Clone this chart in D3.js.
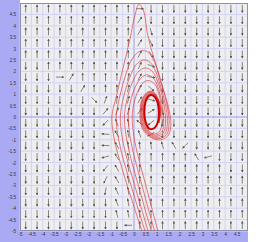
<!DOCTYPE html>
<html>
<head>
<meta charset="utf-8">
<script src="https://cdn.jsdelivr.net/npm/d3@7"></script>
<style>
body{margin:0;background:#fff}
svg{display:block}
</style>
</head>
<body>
<div class="chart"></div>
<script>
// tick labels on both axes
var tickVals = [-5,-4.5,-4,-3.5,-3,-2.5,-2,-1.5,-1,-0.5,0,0.5,1,1.5,2,2.5,3,3.5,4,4.5];

// arrow grid: cell centres
var colX = [-4.75,-4.25,-3.75,-3.25,-2.75,-2.25,-1.75,-1.25,-0.75,-0.25,0.25,0.75,1.25,1.75,2.25,2.75,3.25,3.75,4.25,4.75];
var rowY = [4.75,4.25,3.75,3.25,2.75,2.25,1.75,1.25,0.75,0.25,-0.25,-0.75,-1.25,-1.75,-2.25,-2.75,-3.25,-3.75,-4.25,-4.75];

// arrow direction in degrees (0 = right, 90 = up), one row per rowY
var U = 90, D = -90;
var dirs = [
  [U,U,U,U,U,U,U,U,U,U, 0,D,D,D,D,D,D,D,D,D],
  [U,U,U,U,U,U,U,U,U,U, 55,D,D,D,D,D,D,D,D,D],
  [U,U,U,U,U,U,U,U,U,U, 60,-75,D,D,D,D,D,D,D,D],
  [U,U,U,U,U,U,U,U,U,U, 60,-65,D,D,D,D,D,D,D,D],
  [U,U,U,U,U,U,U,U,U,U, 62,-55,D,D,D,D,D,D,D,D],
  [D,D,U,U,U,U,U,U,U,U, 65,-20,D,D,D,D,D,D,D,D],
  [D,D,D,0,60,U,U,U,U,80, 65,-10,D,D,D,D,D,D,D,D],
  [D,D,D,D,D,60,U,U,U,78, 65,-40,D,D,D,D,D,D,D,D],
  [D,D,D,D,D,D,-45,70,85,75, 60,-15,D,D,D,D,D,D,D,D],
  [D,D,D,D,D,D,D,50,70,75, 50,30,-80,D,D,D,D,D,D,D],
  [D,D,D,D,D,D,D,-135,110,100, 140,-140,-100,D,D,D,D,D,D,D],
  [D,D,D,D,D,D,D,175,120,100, 110,-150,-95,D,D,D,D,D,D,D],
  [D,D,D,D,D,D,D,178,120,100, 95,95,105,120,-135,D,D,D,D,D],
  [D,D,D,D,D,D,D,-165,120,100, U,U,U,U,U,120,-165,D,D,D],
  [D,D,D,D,D,D,D,-130,120,100, U,U,U,U,U,U,U,U,D,D],
  [D,D,D,D,D,D,D,-115,120,100, U,U,U,U,U,U,U,U,U,U],
  [D,D,D,D,D,D,D,-100,115,100, U,U,U,U,U,U,U,U,U,U],
  [D,D,D,D,D,D,D,D,110,100, U,U,U,U,U,U,U,U,U,U],
  [D,D,D,D,D,D,D,D,105,100, U,U,U,U,U,U,U,U,U,U],
  [D,D,D,D,D,D,D,D,D,180, U,U,U,U,U,U,U,U,U,U]
];

// trajectories [x, y]
var traj0 = [[0.35,-5],[0.02,-4],[-0.3,-3],[-0.6,-2],[-0.86,-1],[-0.97,0],[-0.75,1],[-0.47,2.2],[-0.18,3.4],[0.05,4.5],[0.22,4.95],[0.42,4.65],[0.58,3.7],[0.75,3.0],[0.95,2.35],[1.15,1.6],[1.38,0.9],
  [1.55,0.25],[1.62,-0.3],[1.52,-0.78],[1.25,-0.98],[0.92,-0.98],[0.6,-0.8],
  [0.34,-0.45],[0.26,0.2],[0.36,0.8],[0.64,1.12],[0.86,1.1],[1.1,0.7],[1.17,0.2],[1.1,-0.25]];
var traj1 = [[0.48,-5],[0.17,-4],[-0.13,-3],[-0.43,-2],[-0.67,-1],[-0.78,0],[-0.6,1],[-0.35,1.9],[-0.05,2.6],[0.3,2.9],[0.6,2.85],[0.9,2.4],[1.15,1.7],[1.35,0.95],
  [1.5,0.25],[1.54,-0.3],[1.45,-0.74],[1.22,-0.92],[0.9,-0.93],[0.6,-0.75],
  [0.37,-0.42],[0.29,0.2],[0.38,0.78],[0.64,1.09],[0.86,1.07],[1.09,0.7],[1.16,0.2],[1.09,-0.25]];
var traj2 = [[0.62,-5],[0.32,-4],[0.03,-3],[-0.26,-2],[-0.5,-1],[-0.6,0],[-0.45,0.9],[-0.2,1.7],[0.1,2.3],[0.4,2.5],[0.7,2.4],[0.95,2.0],[1.15,1.4],[1.32,0.8],
  [1.44,0.2],[1.46,-0.3],[1.38,-0.7],[1.16,-0.87],[0.88,-0.88],[0.61,-0.71],
  [0.4,-0.39],[0.32,0.2],[0.4,0.76],[0.65,1.06],[0.86,1.04],[1.08,0.7],[1.15,0.2],[1.09,-0.25]];
var traj3 = [[0.76,-5],[0.47,-4],[0.19,-3],[-0.09,-2],[-0.32,-1],[-0.42,0],[-0.3,0.8],[-0.08,1.5],[0.2,2.0],[0.48,2.15],[0.75,2.05],[0.98,1.7],[1.16,1.2],[1.3,0.65],
  [1.37,0.1],[1.38,-0.3],[1.31,-0.66],[1.1,-0.82],[0.86,-0.83],[0.62,-0.67],
  [0.43,-0.36],[0.35,0.2],[0.43,0.74],[0.66,1.03],[0.86,1.01],[1.07,0.7],[1.14,0.2],[1.08,-0.25]];
var traj4 = [[0.9,-5],[0.62,-4],[0.35,-3],[0.08,-2],[-0.15,-1],[-0.25,0],[-0.15,0.7],[0.05,1.3],[0.3,1.7],[0.55,1.85],[0.8,1.75],[1.0,1.45],[1.14,1.0],[1.25,0.5],
  [1.3,0],[1.3,-0.34],[1.23,-0.62],[1.05,-0.77],[0.84,-0.78],[0.63,-0.63],
  [0.46,-0.33],[0.38,0.2],[0.45,0.72],[0.66,1.0],[0.86,0.99],[1.06,0.7],[1.13,0.2],[1.08,-0.25]];
var traj5 = [[1.05,-5],[0.78,-4],[0.52,-3],[0.25,-2],[0.02,-1],[-0.08,0],[0.0,0.6],[0.18,1.15],[0.4,1.5],[0.62,1.6],[0.85,1.5],[1.02,1.25],[1.13,0.85],[1.2,0.4],
  [1.23,0],[1.22,-0.32],[1.15,-0.58],[1.0,-0.72],[0.82,-0.73],[0.64,-0.6],
  [0.49,-0.3],[0.41,0.2],[0.48,0.7],[0.66,0.97],[0.86,0.96],[1.04,0.7],[1.12,0.2],[1.07,-0.25]];
var limitCycle = [[0.45,0.2],[0.51,0.68],[0.67,0.94],[0.86,0.93],[1.02,0.68],[1.09,0.2],[1.05,-0.22],[0.9,-0.48],[0.68,-0.52],[0.52,-0.26]];

var trajectories = [traj0, traj1, traj2, traj3, traj4, traj5];

var width = 259, height = 242;
var plotLeft = 20, plotRight = 248, plotTop = 3, plotBottom = 231;

var svg = d3.select(".chart").append("svg")
    .attr("width", width)
    .attr("height", height);

var x = d3.scaleLinear().domain([-5, 5]).range([plotLeft, plotRight]);
var y = d3.scaleLinear().domain([-5, 5]).range([plotBottom, plotTop]);

// axis bands
svg.append("rect").attr("x", 0).attr("y", 0).attr("width", plotLeft).attr("height", height)
    .attr("fill", "#a9a9f4");
svg.append("rect").attr("x", 0).attr("y", plotBottom).attr("width", plotRight).attr("height", height - plotBottom)
    .attr("fill", "#a9a9f4");

// plot background
svg.append("rect").attr("x", plotLeft).attr("y", plotTop)
    .attr("width", plotRight - plotLeft).attr("height", plotBottom - plotTop)
    .attr("fill", "#eeeef0");

// grid
var grid = svg.append("g").attr("class", "grid");
grid.selectAll(".gx").data(tickVals).enter().append("line")
    .attr("x1", function(d){ return x(d); }).attr("x2", function(d){ return x(d); })
    .attr("y1", plotTop).attr("y2", plotBottom)
    .attr("stroke", function(d){ return d === 0 ? "#9a9af0" : "#d2d3f4"; })
    .attr("stroke-width", 1);
grid.selectAll(".gy").data(tickVals).enter().append("line")
    .attr("y1", function(d){ return y(d); }).attr("y2", function(d){ return y(d); })
    .attr("x1", plotLeft).attr("x2", plotRight)
    .attr("stroke", function(d){ return d === 0 ? "#9a9af0" : "#d2d3f4"; })
    .attr("stroke-width", 1);

svg.append("rect").attr("x", plotLeft + 0.5).attr("y", plotTop + 0.5)
    .attr("width", plotRight - plotLeft - 1).attr("height", plotBottom - plotTop - 1)
    .attr("fill", "none").attr("stroke", "#8f8fb0").attr("stroke-width", 1);

// axes labels
var fmt = function(d){ return String(d); };
var yAxis = d3.axisLeft(y).tickValues(tickVals).tickSize(0).tickPadding(4).tickFormat(fmt);
var xAxis = d3.axisBottom(x).tickValues(tickVals).tickSize(0).tickPadding(2).tickFormat(fmt);

var gy = svg.append("g").attr("transform", "translate(" + plotLeft + ",0)").call(yAxis);
var gx = svg.append("g").attr("transform", "translate(0," + plotBottom + ")").call(xAxis);
[gx, gy].forEach(function(g){
  g.select(".domain").remove();
  g.selectAll("text").attr("fill", "#333").style("font-size", "4.5px")
    .style("font-family", "Liberation Sans, Arial, sans-serif");
});

// arrows
var defs = svg.append("defs");
defs.append("marker").attr("id", "ah")
    .attr("viewBox", "0 0 10 10").attr("refX", 8).attr("refY", 5)
    .attr("markerWidth", 2.6).attr("markerHeight", 2.6)
    .attr("markerUnits", "userSpaceOnUse").attr("orient", "auto")
  .append("path").attr("d", "M0,0L10,5L0,10z").attr("fill", "#555");

var cells = [];
rowY.forEach(function(ry, r){
  colX.forEach(function(cx, c){
    cells.push({x: cx, y: ry, a: dirs[r][c]});
  });
});

var half = 3.8;
svg.append("g").attr("class", "arrows").selectAll("line").data(cells).enter().append("line")
    .attr("x1", function(d){ return x(d.x) - Math.cos(d.a * Math.PI / 180) * half; })
    .attr("y1", function(d){ return y(d.y) + Math.sin(d.a * Math.PI / 180) * half; })
    .attr("x2", function(d){ return x(d.x) + Math.cos(d.a * Math.PI / 180) * half; })
    .attr("y2", function(d){ return y(d.y) - Math.sin(d.a * Math.PI / 180) * half; })
    .attr("stroke", "#555").attr("stroke-width", 0.7)
    .attr("marker-end", "url(#ah)");

// trajectories
var line = d3.line()
    .x(function(d){ return x(d[0]); })
    .y(function(d){ return y(d[1]); })
    .curve(d3.curveCatmullRom.alpha(0.5));

var clip = defs.append("clipPath").attr("id", "plotclip").append("rect")
    .attr("x", plotLeft).attr("y", plotTop).attr("width", plotRight - plotLeft).attr("height", plotBottom - plotTop);

var tg = svg.append("g").attr("clip-path", "url(#plotclip)");
tg.selectAll(".traj").data(trajectories).enter().append("path")
    .attr("class", "traj")
    .attr("d", line)
    .attr("fill", "none")
    .attr("stroke", "#dd3333")
    .attr("stroke-opacity", 0.8)
    .attr("stroke-width", 0.8);

tg.append("path")
    .attr("d", d3.line()
      .x(function(d){ return x(d[0]); })
      .y(function(d){ return y(d[1]); })
      .curve(d3.curveCatmullRomClosed.alpha(0.5))(limitCycle))
    .attr("fill", "none")
    .attr("stroke", "#c80000")
    .attr("stroke-width", 2);
</script>
</body>
</html>
